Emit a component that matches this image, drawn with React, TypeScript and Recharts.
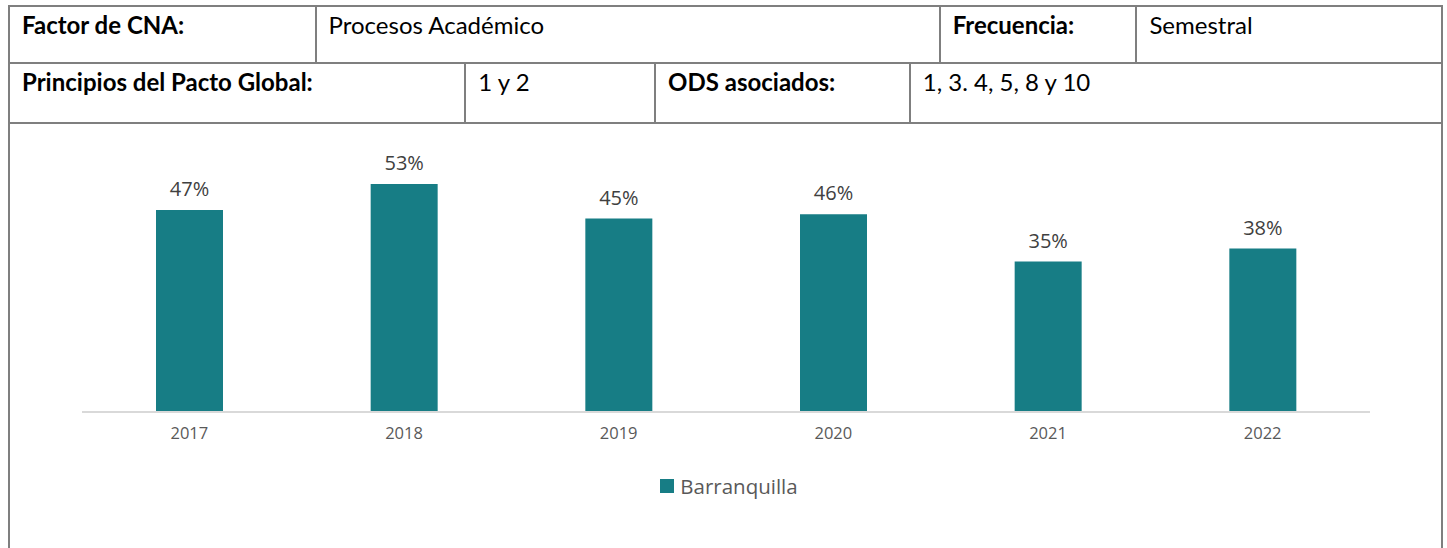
import React from "react";
import { BarChart, Bar, XAxis, YAxis, LabelList, Legend } from "recharts";

// indicator values per year (Barranquilla)
const years = ["2017", "2018", "2019", "2020", "2021", "2022"];
const barranquilla = [0.47, 0.53, 0.45, 0.46, 0.35, 0.38];
const seriesName = "Barranquilla";

const chartData = years.map((year, i) => ({ year, value: barranquilla[i] }));

const BORDER = "2px solid #7f7f7f";
const TEAL = "#177d85";
const TABLE_FONT = "Lato, 'Noto Sans', sans-serif";
const CHART_FONT = "'Open Sans', 'Noto Sans', sans-serif";

const Cell = ({ width, bold, children, last }: any) => (
  <div
    style={{
      width,
      boxSizing: "border-box",
      borderRight: last ? "none" : BORDER,
      padding: "3px 0 0 12px",
      fontWeight: bold ? 700 : 400,
      fontSize: 24,
      color: "#000",
      whiteSpace: "nowrap",
    }}
  >
    {children}
  </div>
);

const LegendContent = () => (
  <div style={{ display: "flex", justifyContent: "center", alignItems: "center", height: 24, paddingLeft: 6 }}>
    <span style={{ width: 14, height: 14, background: TEAL, marginRight: 6, display: "inline-block" }} />
    <span style={{ fontFamily: CHART_FONT, fontSize: 20.5, color: "#595959" }}>{seriesName}</span>
  </div>
);

const App = () => {
  return (
    <div
      style={{
        position: "absolute",
        left: 8,
        top: 5,
        width: 1435,
        height: 543,
        boxSizing: "border-box",
        borderTop: BORDER,
        borderLeft: BORDER,
        borderRight: BORDER,
        fontFamily: TABLE_FONT,
        overflow: "hidden",
      }}
    >
      <div style={{ display: "flex", height: 57, borderBottom: BORDER, boxSizing: "border-box" }}>
        <Cell width={307} bold>Factor de CNA:</Cell>
        <Cell width={625}>Procesos Académico</Cell>
        <Cell width={197} bold>Frecuencia:</Cell>
        <Cell width={304} last>Semestral</Cell>
      </div>
      <div style={{ display: "flex", height: 60, borderBottom: BORDER, boxSizing: "border-box" }}>
        <Cell width={457} bold>Principios del Pacto Global:</Cell>
        <Cell width={190}>1 y 2</Cell>
        <Cell width={255} bold>ODS asociados:</Cell>
        <Cell width={531} last>1, 3. 4, 5, 8 y 10</Cell>
      </div>
      <BarChart
        width={1431}
        height={424}
        data={chartData}
        margin={{ top: 30, right: 71, left: 72, bottom: 82 }}
      >
        <XAxis
          dataKey="year"
          tickLine={false}
          axisLine={{ stroke: "#d9d9d9", strokeWidth: 2 }}
          tick={{ fill: "#595959", fontSize: 16.5, fontFamily: CHART_FONT }}
          height={30}
          dy={7}
        />
        <YAxis hide domain={[0, 0.6]} />
        <Legend
          verticalAlign="bottom"
          content={<LegendContent />}
          wrapperStyle={{ bottom: 50, height: 24 }}
        />
        <Bar dataKey="value" name={seriesName} fill={TEAL} barSize={67} isAnimationActive={false}>
          <LabelList
            dataKey="value"
            position="top"
            offset={14}
            formatter={(v: any) => `${Math.round(v * 100)}%`}
            style={{ fill: "#404040", fontSize: 20, fontFamily: CHART_FONT }}
          />
        </Bar>
      </BarChart>
    </div>
  );
};

export default App;
